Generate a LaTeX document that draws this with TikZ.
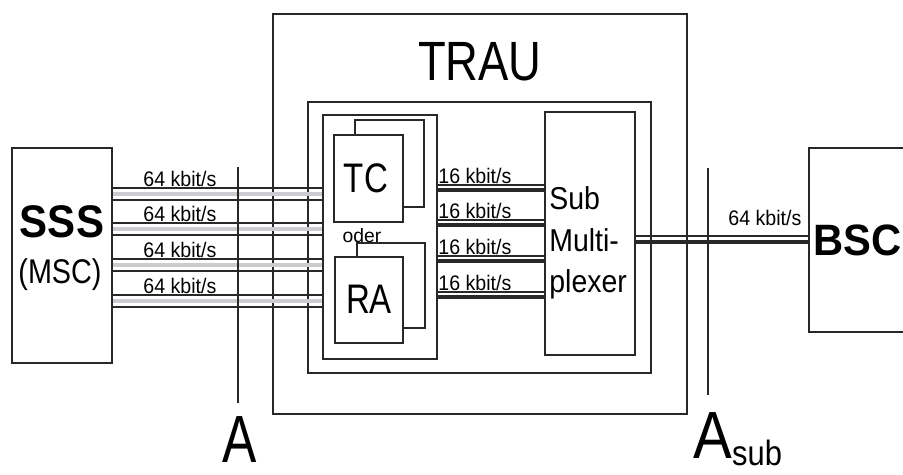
\documentclass[tikz,border=0pt]{standalone}
\usepackage{fontspec}
\setmainfont{Liberation Sans}
\usetikzlibrary{fit}
\definecolor{inkgray}{RGB}{40,40,40}
\definecolor{bandgray}{RGB}{205,203,207}
\newcommand{\narrow}[2][0.82]{\scalebox{#1}[1]{#2}}
\newcommand{\fsize}[1]{\fontsize{#1}{#1}\selectfont}
% 64 kbit/s trunk: two thin lines with a grey band between them
\newcommand{\trunk}[3]{%
    \draw[bandgray, line width=2pt] (#1.east |- 0,#3+6) -- (#2.west |- 0,#3+6);
    \draw[inkgray, line width=0.6pt] (#1.east |- 0,#3) -- (#2.west |- 0,#3);
    \draw[inkgray, line width=0.6pt] (#1.east |- 0,#3+12) -- (#2.west |- 0,#3+12);
}
% 16 kbit/s link: thin line over a thick one
\newcommand{\sublink}[3]{%
    \draw[inkgray, line width=0.6pt] (#1.east |- 0,#3) -- (#2.west |- 0,#3);
    \draw[inkgray, line width=2.3pt] (#1.east |- 0,#3+5) -- (#2.west |- 0,#3+5);
}
\newcommand{\rate}[1]{\fsize{12}\narrow[0.93]{#1}}

\begin{document}
\begin{tikzpicture}[x=0.02cm, y=-0.02cm,
    box/.style={draw=inkgray, line width=0.7pt, inner sep=0pt},
    card/.style={box, fill=white},
    lbl/.style={inner sep=0pt}]
    \useasboundingbox (0,0) rectangle (903,474);

    % Draw boxes
    \node[box, fit={(12,148) (112,363)}] (sss) {};
    \node[box, fit={(273,14) (687,414)}] (trau) {};
    \node[box, fit={(308,102) (651,373)}] (core) {};
    \node[box, fit={(323,115) (437,359)}] (tcra) {};
    \node[box, fit={(355,120) (424,207)}] (tcback) {};
    \node[card, fit={(334,135) (403,222)}] (tc) {};
    \node[box, fit={(357,243) (425,328)}] (raback) {};
    \node[card, fit={(335,257) (403,343)}] (ra) {};
    \node[box, fit={(545,112) (635,355)}] (mux) {};
    \node[box, fit={(809,148) (915,332)}] (bsc) {};

    % Draw links
    \foreach \y in {188,223,259,295} {\trunk{sss}{tcra}{\y}}
    \foreach \y in {185,220,256,292} {\sublink{tcra}{mux}{\y}}
    \draw[inkgray, line width=0.6pt] (mux.east |- 0,236) -- (bsc.west |- 0,236);
    \draw[inkgray, line width=2.8pt] (mux.east |- 0,242) -- (bsc.west |- 0,242);

    % Draw interfaces
    \coordinate (atop) at (238,167);
    \coordinate (abot) at (238,403);
    \coordinate (subtop) at (708,168);
    \coordinate (subbot) at (708,395);
    \draw[inkgray, line width=0.7pt] (atop) -- (abot);
    \draw[inkgray, line width=0.7pt] (subtop) -- (subbot);

    % Labels
    \node[lbl, anchor=base] (trautext) at (480,80) {\fsize{31.5}\narrow{TRAU}};
    \node[lbl, anchor=base] (ssstext) at (62,237) {\fsize{26}\bfseries\narrow[0.92]{SSS}};
    \node[lbl, anchor=base] (msctext) at (60,283) {\fsize{19.5}\narrow[0.84]{(MSC)}};
    \node[lbl, anchor=base] (tctext) at (366,192) {\fsize{23.5}\narrow[0.8]{TC}};
    \node[lbl, anchor=base] (ratext) at (369,313) {\fsize{23.5}\narrow[0.8]{RA}};
    \node[lbl, anchor=base] (odertext) at (362,242) {\fsize{11}oder};
    \node[lbl, anchor=west, align=left, font=\fontsize{18}{23.5}\selectfont] (muxtext) at (549,243)
        {\narrow[0.9]{Sub}\\\narrow[0.9]{Multi-}\\\narrow[0.9]{plexer}};
    \node[lbl, anchor=base west] (bsctext) at (813,255) {\fsize{25}\bfseries\narrow[0.95]{BSC}};

    \foreach \y in {188,223,259,295} {
        \node[lbl, anchor=base west] at (143,\y-2) {\rate{64 kbit/s}};
    }
    \foreach \y in {185,220,256,292} {
        \node[lbl, anchor=base west] at (438,\y-2) {\rate{16 kbit/s}};
    }
    \node[lbl, anchor=base west] (bscrate) at (728,225) {\rate{64 kbit/s}};

    \node[lbl, anchor=base] (alabel) at (240,462) {\fsize{38}\narrow[0.77]{A}};
    \node[lbl, anchor=base west] (sublabel) at (693,458)
        {\fsize{38}\narrow[0.87]{A}\raisebox{-4pt}{\fsize{20}\narrow[0.88]{sub}}};
\end{tikzpicture}
\end{document}
